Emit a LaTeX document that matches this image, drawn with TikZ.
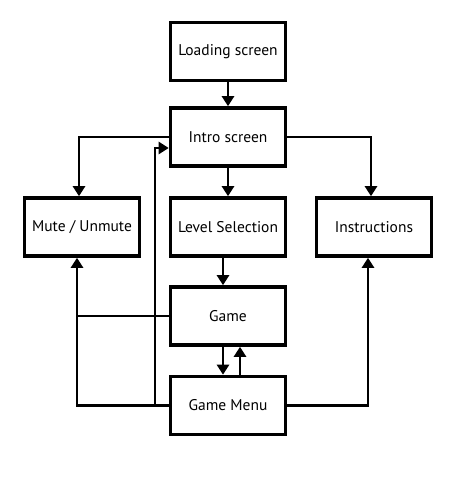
\documentclass[tikz,border=0pt]{standalone}
\usepackage{fontspec}
\setmainfont{PT Sans}
\usetikzlibrary{arrows.meta}
\begin{document}
\begin{tikzpicture}[x=1pt,y=-1pt,
  box/.style={draw=black,line width=3.6pt,minimum width=115pt,minimum height=58pt,inner sep=0pt,font=\fontsize{15.5}{18}\selectfont,fill=white},
  conn/.style={line width=2.6pt,line join=miter},
  arr/.style={conn,-{Triangle[width=12pt,length=10pt]}}]
\useasboundingbox (0,0) rectangle (450,487);
\node[box] (load) at (228,51.5) {Loading screen};
\node[box] (intro) at (228,137) {Intro screen};
\node[box] (level) at (228,227) {Level Selection};
\node[box] (mute) at (82,227) {Mute / Unmute};
\node[box] (instr) at (374,227) {Instructions};
\node[box] (game) at (228,316) {Game};
\node[box] (menu) at (228,405.5) {Game Menu};
\coordinate (lx) at (155,0);
\coordinate (mx) at (77,0);
\draw[arr] (load) -- (intro);
\draw[arr] (intro) -- (level);
\draw[arr] ([xshift=-5pt]level.south) -- ([xshift=-5pt]game.north);
\draw[arr] ([xshift=-5pt]game.south) -- ([xshift=-5pt]menu.north);
\draw[arr] ([xshift=12pt]menu.north) -- ([xshift=12pt]game.south);
\draw[arr] (intro.west) -| ([xshift=-3pt]mute.north);
\draw[arr] (intro.east) -| ([xshift=-3pt]instr.north);
\draw[arr] (menu.west) -| ([xshift=-5pt]mute.south);
\draw[conn] (game.west) -- (game.west -| mx);
\draw[arr] (menu.west) -- (menu.west -| lx) |- ([yshift=-11pt]intro.west);
\draw[arr] (menu.east) -| ([xshift=-6pt]instr.south);
\end{tikzpicture}
\end{document}
